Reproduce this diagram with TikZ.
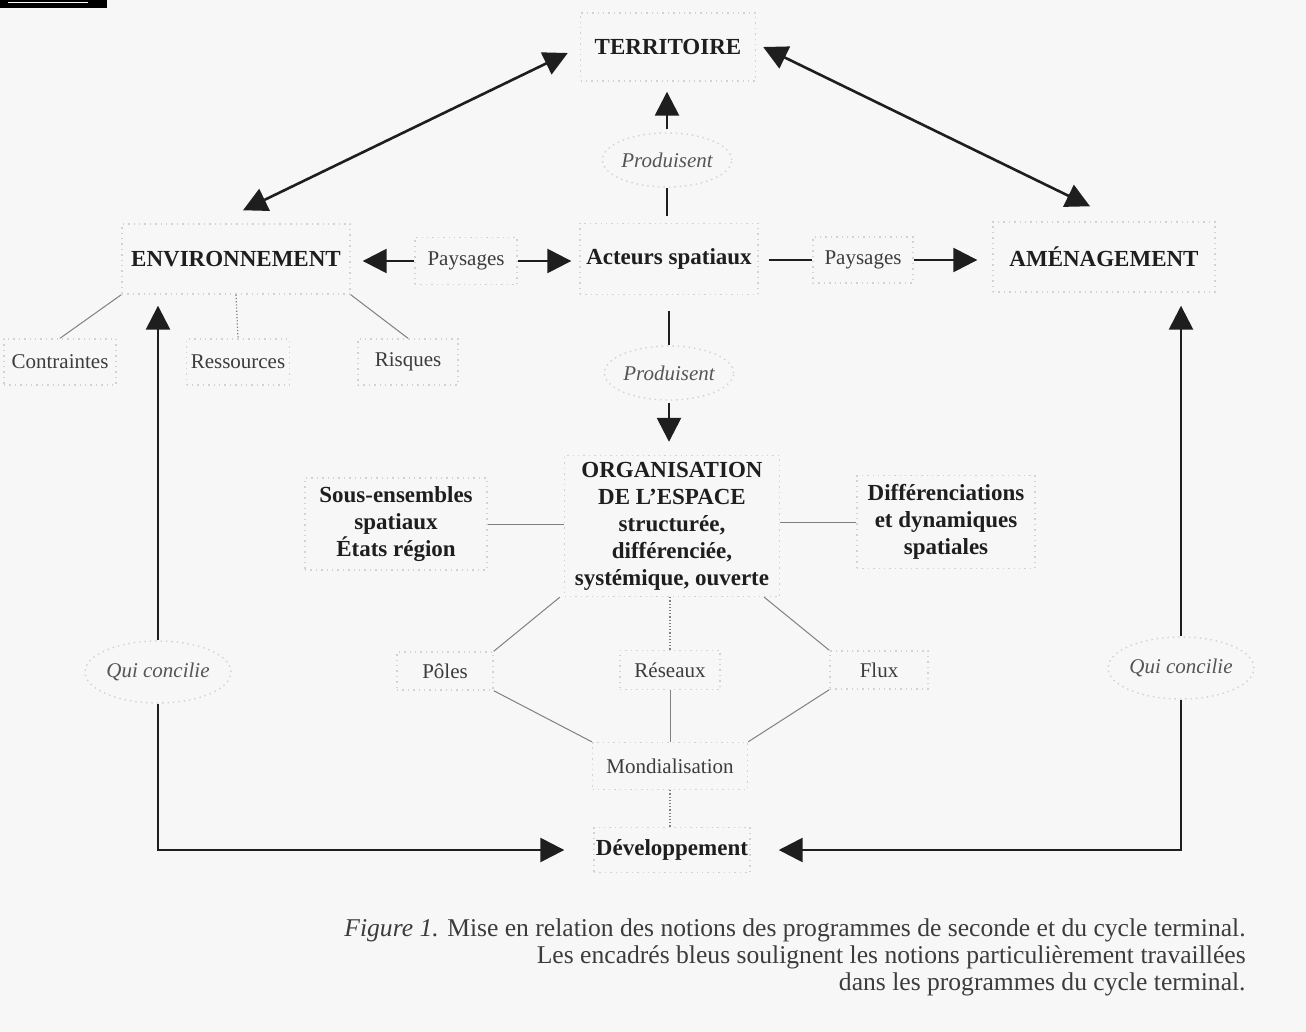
\documentclass[tikz,border=0pt]{standalone}
\usepackage{fontspec}
\setmainfont{Liberation Serif}
\usetikzlibrary{arrows.meta,shapes.geometric,calc}
\definecolor{bg}{HTML}{F7F7F7}
\definecolor{ink}{HTML}{1E1E1E}
\definecolor{ink2}{HTML}{3C3C3C}
\definecolor{ink3}{HTML}{555555}
\definecolor{boxc}{HTML}{D2D2D2}
\definecolor{thinc}{HTML}{808080}
\begin{document}
\begin{tikzpicture}[x=0.5pt,y=-0.5pt,
  box/.style={draw=boxc, dotted, line width=0.7pt, inner sep=0pt, align=center},
  mainlbl/.style={box, font=\fontsize{11.5}{13.5}\selectfont\bfseries, text=ink},
  seclbl/.style={box, font=\fontsize{10.5}{12}\selectfont, text=ink2},
  oval/.style={ellipse, draw=boxc, dotted, line width=0.7pt, inner sep=0pt, font=\fontsize{10.5}{12}\selectfont\itshape, text=ink3},
  arr/.style={-{Triangle[length=12pt,width=12pt]}, line width=1.3pt, draw=ink},
  dblarr/.style={{Triangle[length=12pt,width=12pt]}-{Triangle[length=12pt,width=12pt]}, line width=1.3pt, draw=ink},
  plain/.style={line width=1.3pt, draw=ink},
  thin/.style={line width=0.5pt, draw=thinc},
  thindot/.style={line width=0.6pt, draw=thinc, densely dotted}
]
\fill[bg] (0,0) rectangle (1306,1032);
\useasboundingbox (0,0) rectangle (1306,1032);
\fill[black] (0,0) rectangle (107,8);
\draw[white, line width=0.4pt] (8,2) -- (88,2);

% main nodes
\node[mainlbl, minimum width=87.5pt, minimum height=34pt] (terr) at (668,47) {TERRITOIRE};
\node[mainlbl, minimum width=114pt, minimum height=35pt] (env) at (236,259) {ENVIRONNEMENT};
\node[mainlbl, minimum width=89pt, minimum height=35.5pt] (act) at (669,259) {Acteurs spatiaux};
\node[mainlbl, minimum width=111pt, minimum height=35pt] (amen) at (1104,257) {AMÉNAGEMENT};
\node[seclbl, minimum width=51pt, minimum height=23.5pt] (pay1) at (466,261) {Paysages};
\node[seclbl, minimum width=50pt, minimum height=23pt] (pay2) at (863,260) {Paysages};
\node[oval, minimum width=55pt, minimum height=27pt] (prod1) at (667,160) {Produisent};
\node[oval, minimum width=57pt, minimum height=27pt] (prod2) at (669,373) {Produisent};
\node[seclbl, minimum width=56pt, minimum height=23pt] (contr) at (60,362) {Contraintes};
\node[seclbl, minimum width=51.5pt, minimum height=23pt] (ress) at (238,362) {Ressources};
\node[seclbl, minimum width=50pt, minimum height=23pt] (risq) at (408,362) {Risques};
\node[mainlbl, minimum width=107.5pt, minimum height=70.5pt] (org) at (672,526) {ORGANISATION\\DE L'ESPACE\\structurée,\\différenciée,\\systémique, ouverte};
\node[mainlbl, minimum width=91pt, minimum height=46pt] (sous) at (396,524) {Sous-ensembles\\spatiaux\\États région};
\node[mainlbl, minimum width=89pt, minimum height=46.5pt] (diff) at (946,522) {Différenciations\\et dynamiques\\spatiales};
\node[seclbl, minimum width=48pt, minimum height=19pt] (poles) at (445,671) {Pôles};
\node[seclbl, minimum width=50pt, minimum height=19.5pt] (res) at (670,670) {Réseaux};
\node[seclbl, minimum width=49pt, minimum height=19pt] (flux) at (879,670) {Flux};
\node[seclbl, minimum width=77.5pt, minimum height=23.5pt] (mond) at (670,766) {Mondialisation};
\node[mainlbl, minimum width=78pt, minimum height=22.5pt] (dev) at (672,850) {Développement};
\node[oval, minimum width=57pt, minimum height=31pt] (qc1) at (158,672) {Qui concilie};
\node[oval, minimum width=57pt, minimum height=31pt] (qc2) at (1181,668) {Qui concilie};

% top double arrows
\draw[dblarr] ([shift={(-12,6)}]terr.west) -- ([shift={(7,-13)}]env.north);
\draw[dblarr] ([shift={(7,0)}]terr.east) -- ([shift={(-14,-15)}]amen.north);

% acteurs -> territoire
\draw[plain, shorten <=3.5pt] (act.north -| prod1) -- (prod1.south);
\draw[arr, shorten <=1.5pt, shorten >=5pt] (prod1.north) -- (prod1.north |- terr.south);
% acteurs -> organisation
\draw[plain, shorten <=8pt] (act.south) -- (prod2.north);
\draw[arr, shorten <=1pt, shorten >=6.5pt] (prod2.south) -- (prod2.south |- org.north);

% paysages
\draw[arr, shorten >=6pt] (pay1.west) -- (pay1.west -| env.east);
\draw[arr, shorten >=4pt] (pay1.east) -- (pay1.east -| act.west);
\draw[plain, shorten <=5pt] (pay2.west -| act.east) -- (pay2.west);
\draw[arr, shorten >=7.5pt] (pay2.east) -- (pay2.east -| amen.west);

% environnement branches
\draw[thin] (env.south west) -- (contr.north);
\draw[thindot] (env.south) -- (ress.north);
\draw[thin] (env.south east) -- (risq.north);

% organisation links
\draw[thin] (sous.east) -- (sous.east -| org.west);
\draw[thin] (diff.west -| org.east) -- (diff.west);
\draw[thin] ([xshift=-2]org.south west) -- (poles.north east);
\draw[thindot] (org.south -| res) -- (res.north);
\draw[thin] ([xshift=-8]org.south east) -- (flux.north west);
\draw[thin] (poles.south east) -- (mond.north west);
\draw[thin] (res.south) -- (mond.north -| res);
\draw[thin] (flux.south west) -- (mond.north east);
\draw[thindot] (mond.south) -- (mond.south |- dev.north);

% loops
\draw[arr, shorten >=5.5pt] (qc1.north) -- (qc1.north |- env.south);
\draw[arr, shorten >=14.5pt] (qc1.south) |- (dev.west);
\draw[arr, shorten >=6.5pt] (qc2.north) -- (qc2.north |- amen.south);
\draw[arr, shorten >=14pt] (qc2.south) |- (dev.east);

% caption
\node[anchor=north east, align=right, inner sep=0pt, text=ink2, font=\fontsize{12.8}{13.5}\selectfont] (cap) at (1246,918)
  {\textit{Figure 1.} Mise en relation des notions des programmes de seconde et du cycle terminal.\\
   Les encadrés bleus soulignent les notions particulièrement travaillées\\
   dans les programmes du cycle terminal.};
\end{tikzpicture}
\end{document}
